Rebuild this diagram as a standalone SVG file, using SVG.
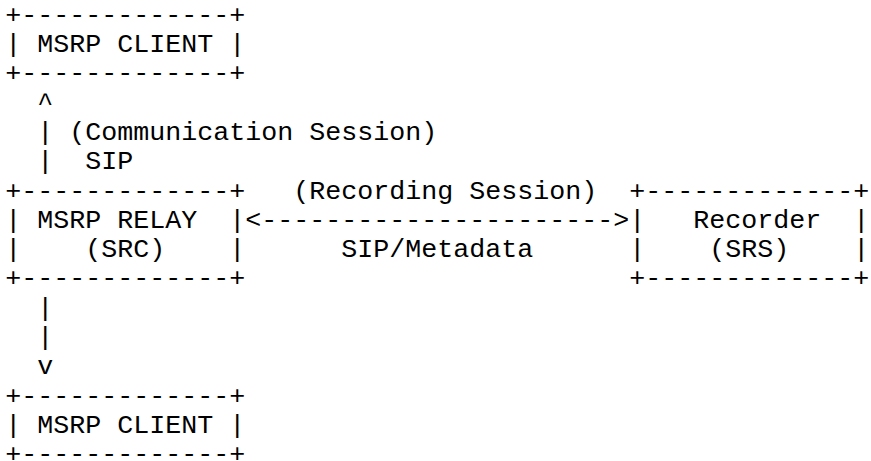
<svg xmlns="http://www.w3.org/2000/svg" width="871" height="461" viewBox="0 0 871 461">
  <style>
    .t { font-family: "Liberation Mono", "Courier New", monospace; font-size: 26.67px; fill: #000; }
  </style>
  <rect width="871" height="461" fill="#fff"/>

  <!-- character grid: column c at x = 5.3 + 16*c, row r baseline at 22.7 + 29.3*r -->

  <!-- top client box -->
  <g id="client-top" class="t">
    <text x="5.3" y="22.7">+-------------+</text>
    <text x="5.3" y="52">|</text>
    <text x="37.3" y="52">MSRP CLIENT</text>
    <text x="229.3" y="52">|</text>
    <text x="5.3" y="81.3">+-------------+</text>
  </g>

  <!-- relay (SRC) box -->
  <g id="relay-src" class="t">
    <text x="5.3" y="198.5">+-------------+</text>
    <text x="5.3" y="227.8">|</text>
    <text x="37.3" y="227.8">MSRP RELAY</text>
    <text x="229.3" y="227.8">|</text>
    <text x="5.3" y="257.1">|</text>
    <text x="85.3" y="257.1">(SRC)</text>
    <text x="229.3" y="257.1">|</text>
    <text x="5.3" y="286.4">+-------------+</text>
  </g>

  <!-- recorder (SRS) box -->
  <g id="recorder-srs" class="t">
    <text x="629.3" y="198.5">+-------------+</text>
    <text x="629.3" y="227.8">|</text>
    <text x="693.3" y="227.8">Recorder</text>
    <text x="853.3" y="227.8">|</text>
    <text x="629.3" y="257.1">|</text>
    <text x="709.3" y="257.1">(SRS)</text>
    <text x="853.3" y="257.1">|</text>
    <text x="629.3" y="286.4">+-------------+</text>
  </g>

  <!-- bottom client box -->
  <g id="client-bottom" class="t">
    <text x="5.3" y="403.6">+-------------+</text>
    <text x="5.3" y="432.9">|</text>
    <text x="37.3" y="432.9">MSRP CLIENT</text>
    <text x="229.3" y="432.9">|</text>
    <text x="5.3" y="461.5">+-------------+</text>
  </g>

  <!-- connectors and their labels -->
  <g id="connectors" class="t">
    <text x="37.3" y="110.6">^</text>
    <text x="37.3" y="139.9">|</text>
    <text x="69.3" y="139.9">(Communication Session)</text>
    <text x="37.3" y="169.2">|</text>
    <text x="85.3" y="169.2">SIP</text>
    <text x="293.3" y="198.5">(Recording Session)</text>
    <text x="245.3" y="227.8">&lt;----------------------&gt;</text>
    <text x="341.3" y="257.1">SIP/Metadata</text>
    <text x="37.3" y="315.7">|</text>
    <text x="37.3" y="345">|</text>
    <text x="37.3" y="374.3">v</text>
  </g>
</svg>
